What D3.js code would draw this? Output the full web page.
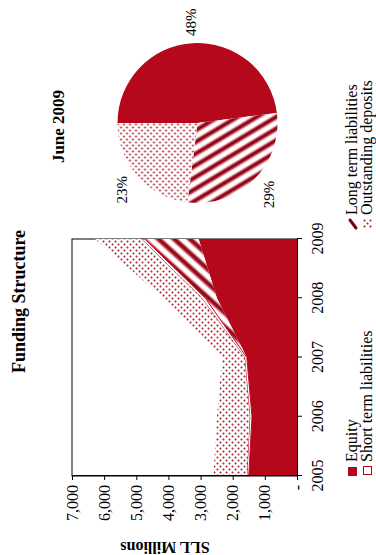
<!DOCTYPE html>
<html><head><meta charset="utf-8">
<script src="https://cdn.jsdelivr.net/npm/d3@7"></script>
<style>html,body{margin:0;padding:0;background:#fff;} svg{display:block;} text{font-family:"Liberation Serif","Times New Roman",serif;fill:#000;}</style>
</head><body>
<script>
// ---- data ----
const years = [2005, 2006, 2007, 2008, 2009];
const equity = [1500, 1400, 1560, 2490, 3060];
const longTerm = [0, 0, 0, 360, 1680];
const shortTerm = [60, 70, 70, 110, 100];
const deposits = [1040, 1020, 700, 1190, 1440];
const seriesKeys = ["equity", "longTerm", "shortTerm", "deposits"];
const seriesNames = ["Equity", "Long term liabilities", "Short term liabilities", "Outstanding deposits"];
const valueTicks = [0, 1000, 2000, 3000, 4000, 5000, 6000, 7000];
const pieNames = ["Equity", "Long term liabilities", "Outstanding deposits"];
const pieValues = [48, 29, 23];
const chartTitle = "Funding Structure";
const pieTitle = "June 2009";
const axisTitle = "SLL Millions";

const RED = "#b5081a";
const DARK = "#7a0010";

const svg = d3.select("body").append("svg").attr("width", 376).attr("height", 555);
const defs = svg.append("defs");

// stripe gradient
const grad = defs.append("linearGradient").attr("id", "stripeGrad").attr("x1", 0).attr("x2", 1).attr("y1", 0).attr("y2", 0);
[[0, "#fff"], [0.12, "#fff"], [0.3, "#c23a48"], [0.45, DARK], [0.6, "#a81828"], [0.75, "#f2d0d4"], [0.85, "#fff"], [1, "#fff"]]
  .forEach(([o, c]) => grad.append("stop").attr("offset", o).attr("stop-color", c));

function stripePattern(id, size, angle) {
  const p = defs.append("pattern").attr("id", id).attr("patternUnits", "userSpaceOnUse")
    .attr("width", size).attr("height", size).attr("patternTransform", `rotate(${angle})`);
  p.append("rect").attr("width", size).attr("height", size).attr("fill", "url(#stripeGrad)");
}
stripePattern("stripesArea", 10.5, 42);
stripePattern("stripesPie", 10, -31);

const dp = defs.append("pattern").attr("id", "dots").attr("patternUnits", "userSpaceOnUse")
  .attr("width", 6).attr("height", 6);
dp.append("rect").attr("width", 6).attr("height", 6).attr("fill", "#fff");
dp.append("circle").attr("cx", 1.5).attr("cy", 1.5).attr("r", 1.05).attr("fill", "#a82232");
dp.append("circle").attr("cx", 4.5).attr("cy", 4.5).attr("r", 1.05).attr("fill", "#a82232");

// whole figure is drawn rotated by -90 degrees
const g = svg.append("g").attr("transform", "translate(0,555) rotate(-90)");

// ---- area chart ----
const x = d3.scaleLinear().domain([years[0], years[years.length - 1]]).range([79, 316]);
const y = d3.scaleLinear().domain([0, 7000]).range([297, 72]);

g.append("rect").attr("x", x.range()[0]).attr("y", y.range()[1])
  .attr("width", x.range()[1] - x.range()[0]).attr("height", y.range()[0] - y.range()[1])
  .attr("fill", "none").attr("stroke", "#000").attr("stroke-width", 1);

const rows = years.map((yr, i) => ({ year: yr, equity: equity[i], longTerm: longTerm[i], shortTerm: shortTerm[i], deposits: deposits[i] }));
const stacked = d3.stack().keys(seriesKeys)(rows);
const area = d3.area().x(d => x(d.data.year)).y0(d => y(d[0])).y1(d => y(d[1]));
const fills = { equity: RED, longTerm: "url(#stripesArea)", shortTerm: "#fff", deposits: "url(#dots)" };
g.selectAll("path.layer").data(stacked).join("path").attr("class", "layer")
  .attr("d", area)
  .attr("fill", d => fills[d.key])
  .attr("stroke", d => d.key === "shortTerm" ? "#c00018" : "none")
  .attr("stroke-width", 1);

const yAxis = g.append("g").attr("transform", `translate(${x.range()[0]},0)`)
  .call(d3.axisLeft(y).tickValues(valueTicks).tickSize(4).tickSizeOuter(0).tickPadding(5)
    .tickFormat(d => d === 0 ? "-" : d3.format(",")(d)));
const xAxis = g.append("g").attr("transform", `translate(0,${y.range()[0]})`)
  .call(d3.axisBottom(x).tickValues(years).tickSize(5).tickSizeOuter(0).tickPadding(10).tickFormat(d3.format("d")));
[yAxis, xAxis].forEach(a => {
  a.selectAll("text").style("font-size", "16px").attr("font-family", null);
  a.attr("font-family", null).attr("font-size", null);
  a.selectAll("line,path").attr("stroke", "#000");
});

g.append("text").attr("x", 253.5).attr("y", 25).attr("text-anchor", "middle")
  .style("font-size", "18px").style("font-weight", "bold").text(chartTitle);
g.append("text").attr("transform", "translate(13,165) rotate(-90)").attr("text-anchor", "middle")
  .style("font-size", "16px").style("font-weight", "bold").text(axisTitle);

// ---- pie ----
const pcx = 432, pcy = 197.5, pr = 80;
const pie = d3.pie().sort(null).value(d => d)(pieValues);
const arc = d3.arc().innerRadius(0).outerRadius(pr);
const labelArc = d3.arc().innerRadius(101).outerRadius(101);
const pieFills = [RED, "url(#stripesPie)", "url(#dots)"];
const pg = g.append("g").attr("transform", `translate(${pcx},${pcy})`);
pg.selectAll("path").data(pie).join("path").attr("d", arc).attr("fill", (d, i) => pieFills[i]);
pg.selectAll("text").data(pie).join("text")
  .attr("transform", d => `translate(${labelArc.centroid(d)})`)
  .attr("text-anchor", "middle").attr("dy", "0.35em").style("font-size", "15px")
  .text(d => d.data + "%");
g.append("text").attr("x", 428.5).attr("y", 64).attr("text-anchor", "middle")
  .style("font-size", "17px").style("font-weight", "bold").text(pieTitle);

// ---- legend ----
const lg = g.append("g");
// Equity
lg.append("rect").attr("x", 79).attr("y", 348).attr("width", 9).attr("height", 9).attr("fill", RED);
lg.append("text").attr("x", 93).attr("y", 357).style("font-size", "16px").text(seriesNames[0]);
// Short term
lg.append("rect").attr("x", 80.5).attr("y", 363.5).attr("width", 8).attr("height", 8).attr("fill", "#fff").attr("stroke", "#c00018");
lg.append("text").attr("x", 93).attr("y", 372).style("font-size", "16px").text(seriesNames[2]);
// Long term
lg.append("line").attr("x1", 327).attr("y1", 356).attr("x2", 335).attr("y2", 350)
  .attr("stroke", DARK).attr("stroke-width", 3).attr("stroke-linecap", "round");
lg.append("text").attr("x", 340).attr("y", 357).style("font-size", "16px").text(seriesNames[1]);
// Outstanding deposits
lg.append("rect").attr("x", 327).attr("y", 363).attr("width", 9).attr("height", 9).attr("fill", "url(#dots)");
lg.append("text").attr("x", 340).attr("y", 372).style("font-size", "16px").text(seriesNames[3]);
</script>
</body></html>
